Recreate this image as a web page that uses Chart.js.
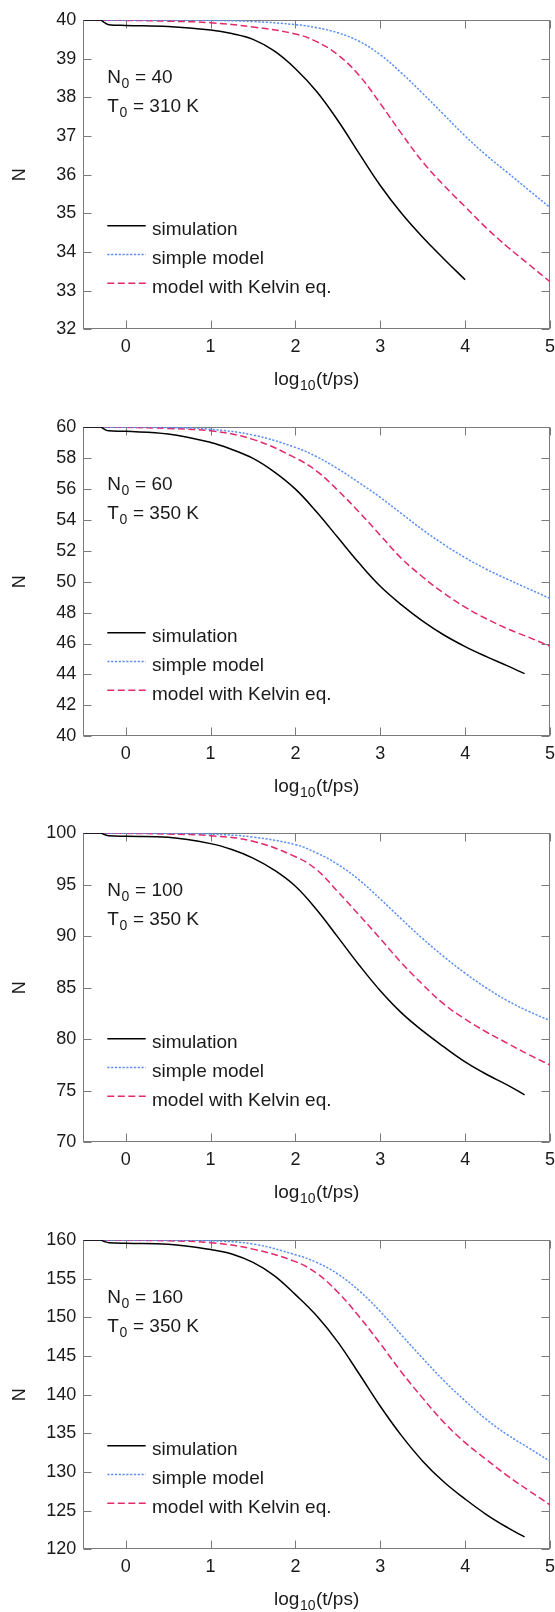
<!DOCTYPE html>
<html>
<head>
<meta charset="utf-8">
<script src="https://cdn.jsdelivr.net/npm/chart.js@4.4.1/dist/chart.umd.min.js"></script>
<style>
html, body { margin: 0; padding: 0; background: #fff; }
body { width: 555px; height: 1612px; position: relative; overflow: hidden; }
.panel { position: absolute; left: 0; width: 555px; height: 407px; }
</style>
</head>
<body>
<div class="panel" style="top:0px"><canvas id="c0" width="555" height="407"></canvas></div>
<div class="panel" style="top:407px"><canvas id="c1" width="555" height="407"></canvas></div>
<div class="panel" style="top:813px"><canvas id="c2" width="555" height="407"></canvas></div>
<div class="panel" style="top:1220px"><canvas id="c3" width="555" height="407"></canvas></div>
<script>
// x positions, log10(t/ps)
const xSimShort = [-0.5, -0.3, -0.25, -0.2, 0, 0.5, 1, 1.25, 1.5, 1.75, 2, 2.25, 2.5, 2.75, 3, 3.25, 3.5, 3.75, 4];
const xSimLong = [-0.5, -0.3, -0.25, -0.2, 0, 0.5, 1, 1.25, 1.5, 1.75, 2, 2.25, 2.5, 2.75, 3, 3.25, 3.5, 3.75, 4, 4.25, 4.5, 4.7];
const xModel = [-0.5, 0, 0.5, 1, 1.5, 2, 2.25, 2.5, 2.75, 3, 3.25, 3.5, 3.75, 4, 4.25, 4.5, 4.75, 5];
const xTicks = [0, 1, 2, 3, 4, 5];

// N0 = 40, T0 = 310 K
const sim40 = [40, 40, 39.93, 39.88, 39.86, 39.83, 39.74, 39.65, 39.5, 39.2, 38.74, 38.15, 37.4, 36.55, 35.72, 35.0, 34.38, 33.82, 33.28];
const simple40 = [40, 40, 40, 39.99, 39.96, 39.88, 39.8, 39.67, 39.45, 39.1, 38.63, 38.1, 37.55, 37.0, 36.5, 36.05, 35.6, 35.15];
const kelvin40 = [40, 39.99, 39.97, 39.93, 39.82, 39.64, 39.44, 39.1, 38.57, 37.84, 37.06, 36.33, 35.72, 35.17, 34.62, 34.13, 33.68, 33.23];

// N0 = 60, T0 = 350 K
const sim60 = [60, 60, 59.85, 59.75, 59.72, 59.55, 59.0, 58.55, 57.97, 57.1, 55.98, 54.5, 52.85, 51.2, 49.7, 48.5, 47.45, 46.55, 45.8, 45.15, 44.55, 44.05];
const simple60 = [60, 60, 59.97, 59.85, 59.48, 58.68, 58.08, 57.3, 56.4, 55.45, 54.4, 53.35, 52.4, 51.55, 50.8, 50.15, 49.53, 48.92];
const kelvin60 = [60, 59.98, 59.9, 59.75, 59.2, 58.0, 57.15, 55.9, 54.5, 53.0, 51.5, 50.3, 49.25, 48.35, 47.6, 46.95, 46.4, 45.83];

// N0 = 100, T0 = 350 K
const sim100 = [100, 100, 99.85, 99.74, 99.68, 99.58, 98.97, 98.4, 97.57, 96.4, 94.83, 92.56, 89.9, 87.2, 84.7, 82.55, 80.8, 79.25, 77.8, 76.6, 75.55, 74.6];
const simple100 = [100, 100, 99.98, 99.9, 99.6, 98.87, 98.06, 96.95, 95.45, 93.6, 91.65, 89.75, 88.0, 86.4, 84.97, 83.72, 82.7, 81.8];
const kelvin100 = [100, 99.97, 99.9, 99.74, 99.2, 97.7, 96.44, 94.3, 92.05, 89.75, 87.4, 85.3, 83.4, 81.95, 80.7, 79.6, 78.5, 77.5];

// N0 = 160, T0 = 350 K
const sim160 = [160, 160, 159.8, 159.66, 159.57, 159.44, 158.77, 158.2, 157.1, 155.4, 152.93, 150.2, 146.8, 142.7, 138.5, 134.7, 131.4, 128.7, 126.5, 124.5, 122.8, 121.6];
const simple160 = [160, 160, 159.99, 159.9, 159.48, 158.1, 157.1, 155.6, 153.45, 150.75, 147.7, 144.7, 141.8, 139.2, 136.8, 134.8, 133.1, 131.4];
const kelvin160 = [160, 159.97, 159.9, 159.66, 158.82, 157.2, 155.7, 153.25, 150.1, 146.6, 142.9, 139.55, 136.4, 133.8, 131.6, 129.5, 127.6, 125.75];

const seriesNames = ['simulation', 'simple model', 'model with Kelvin eq.'];

const panels = [
    { n0: '40', t0: '310 K', xSim: xSimShort, sim: sim40, simple: simple40, kelvin: kelvin40, yMin: 32, yMax: 40, yStep: 1 },
    { n0: '60', t0: '350 K', xSim: xSimLong, sim: sim60, simple: simple60, kelvin: kelvin60, yMin: 40, yMax: 60, yStep: 2 },
    { n0: '100', t0: '350 K', xSim: xSimLong, sim: sim100, simple: simple100, kelvin: kelvin100, yMin: 70, yMax: 100, yStep: 5 },
    { n0: '160', t0: '350 K', xSim: xSimLong, sim: sim160, simple: simple160, kelvin: kelvin160, yMin: 120, yMax: 160, yStep: 5 }
];

const FONT = "'Liberation Sans', Arial, Helvetica, sans-serif";
const TEXT = '#1a1a1a';
const styles = [
    { color: '#000000', dash: [] },
    { color: '#5b8ff6', dash: [2.2, 1.6] },
    { color: '#e3286c', dash: [7, 3.5] }
];

Chart.defaults.font.family = FONT;
Chart.defaults.font.size = 18;
Chart.defaults.color = TEXT;

function toPoints(xs, ys) {
    return ys.map((v, i) => ({ x: xs[i], y: v }));
}

// text with a subscript part: main, sub, rest
function drawSubText(ctx, x, y, main, sub, rest, center) {
    const big = '19px ' + FONT, small = '14px ' + FONT;
    ctx.font = big;
    const w1 = ctx.measureText(main).width;
    const w3 = ctx.measureText(rest).width;
    ctx.font = small;
    const w2 = ctx.measureText(sub).width;
    const sx = center ? x - (w1 + w2 + w3 + 1) / 2 : x;
    ctx.textAlign = 'left';
    ctx.textBaseline = 'alphabetic';
    ctx.font = big;
    ctx.fillText(main, sx, y);
    ctx.font = small;
    ctx.fillText(sub, sx + w1 + 0.5, y + 4.5);
    ctx.font = big;
    ctx.fillText(rest, sx + w1 + w2 + 1, y);
}

const framePlugin = {
    id: 'frame',
    beforeDatasetsDraw(chart) {
        const { ctx, chartArea: a, scales: { x, y } } = chart;
        ctx.save();
        ctx.strokeStyle = '#7a7a7a';
        ctx.lineWidth = 1;
        const l = Math.round(a.left) + 0.5, r = Math.round(a.right) - 0.5;
        const t = Math.round(a.top) + 0.5, b = Math.round(a.bottom) - 0.5;
        ctx.strokeRect(l, t, r - l, b - t);
        ctx.beginPath();
        x.ticks.forEach(tk => {
            const px = Math.round(x.getPixelForValue(tk.value)) + 0.5;
            ctx.moveTo(px, b); ctx.lineTo(px, b - 8);
            ctx.moveTo(px, t); ctx.lineTo(px, t + 8);
        });
        y.ticks.forEach(tk => {
            const py = Math.round(y.getPixelForValue(tk.value)) + 0.5;
            ctx.moveTo(l, py); ctx.lineTo(l + 8, py);
            ctx.moveTo(r, py); ctx.lineTo(r - 8, py);
        });
        ctx.stroke();
        ctx.restore();
    },
    afterDraw(chart, args, opts) {
        const { ctx, chartArea: a } = chart;
        ctx.save();
        ctx.fillStyle = TEXT;
        // annotation
        drawSubText(ctx, a.left + 24, a.top + 63.3, 'N', '0', ' = ' + opts.n0, false);
        drawSubText(ctx, a.left + 24, a.top + 92.3, 'T', '0', ' = ' + opts.t0, false);
        // legend
        seriesNames.forEach((name, i) => {
            const ly = a.top + 205.7 + i * 28.8;
            ctx.strokeStyle = styles[i].color;
            ctx.lineWidth = 1.5;
            ctx.setLineDash(styles[i].dash);
            ctx.beginPath();
            ctx.moveTo(a.left + 24, ly);
            ctx.lineTo(a.left + 62.4, ly);
            ctx.stroke();
            ctx.setLineDash([]);
            ctx.font = '19px ' + FONT;
            ctx.textAlign = 'left';
            ctx.textBaseline = 'alphabetic';
            ctx.fillText(name, a.left + 68.7, ly + 9.5);
        });
        // x axis title
        drawSubText(ctx, (a.left + a.right) / 2, a.bottom + 55.7, 'log', '10', '(t/ps)', true);
        ctx.restore();
    }
};

panels.forEach((p, i) => {
    const ctx = document.getElementById('c' + i).getContext('2d');
    new Chart(ctx, {
        type: 'line',
        data: {
            datasets: [
                { label: seriesNames[0], data: toPoints(p.xSim, p.sim) },
                { label: seriesNames[1], data: toPoints(xModel, p.simple) },
                { label: seriesNames[2], data: toPoints(xModel, p.kelvin) }
            ].map((d, k) => Object.assign(d, {
                borderColor: styles[k].color,
                borderDash: styles[k].dash,
                borderWidth: 1.5,
                pointRadius: 0,
                fill: false,
                tension: 0.4
            }))
        },
        options: {
            responsive: false,
            animation: false,
            events: [],
            layout: { padding: { top: 20, right: 5, left: 0, bottom: 0 } },
            plugins: {
                legend: { display: false },
                tooltip: { enabled: false },
                frame: { n0: p.n0, t0: p.t0 }
            },
            scales: {
                x: {
                    type: 'linear',
                    min: -0.5,
                    max: 5,
                    afterBuildTicks: s => { s.ticks = xTicks.map(v => ({ value: v })); },
                    afterFit: s => { s.height = 77.7; s.paddingLeft = 0; s.paddingRight = 0; },
                    grid: { display: false, drawTicks: false },
                    border: { display: false },
                    ticks: { padding: 6.5, color: TEXT, font: { size: 18 } }
                },
                y: {
                    min: p.yMin,
                    max: p.yMax,
                    afterFit: s => { s.width = 83.3; },
                    grid: { display: false, drawTicks: false },
                    border: { display: false },
                    ticks: { stepSize: p.yStep, padding: 7, color: TEXT, font: { size: 18 } },
                    title: { display: true, text: 'N', color: TEXT, font: { size: 18 }, padding: { top: 9 } }
                }
            }
        },
        plugins: [framePlugin]
    });
});
</script>
</body>
</html>
